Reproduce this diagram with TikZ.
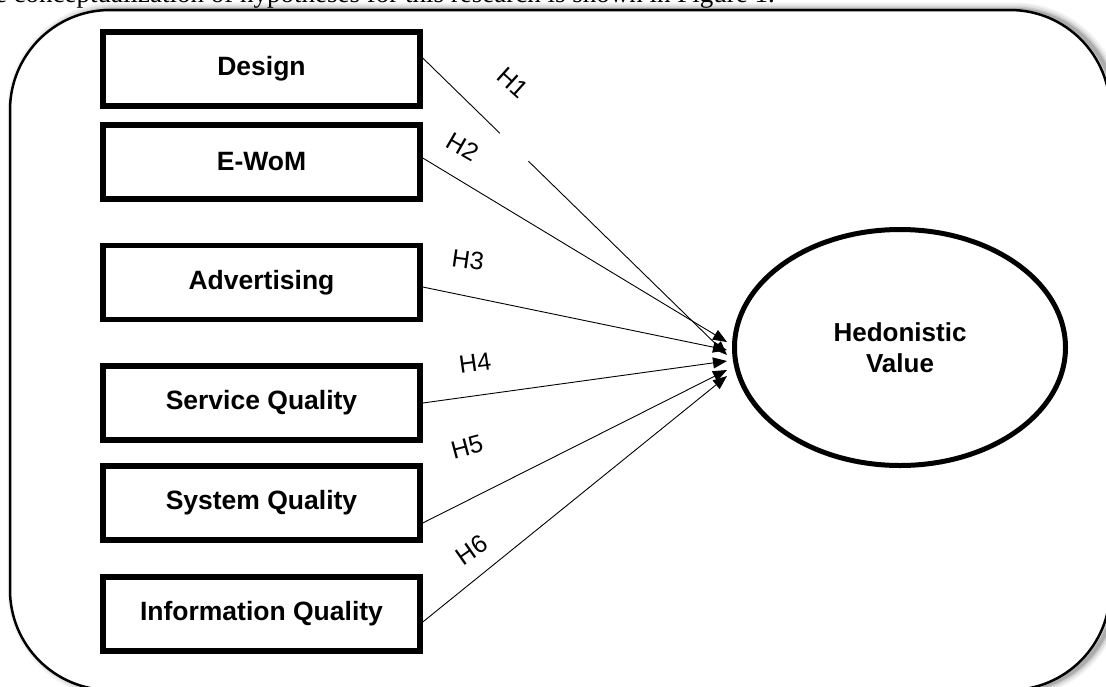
\documentclass[tikz,border=0pt]{standalone}
\usepackage{fontspec}
\setmainfont{Liberation Serif}
\newfontfamily\arial{Liberation Sans}
\usetikzlibrary{arrows.meta,shapes.geometric}

\begin{document}
\begin{tikzpicture}[x=1pt,y=-1pt,
  factor/.style={draw, line width=5.5pt, minimum width=317pt, minimum height=74pt,
    inner sep=0pt, font=\arial\bfseries\fontsize{26.5}{31}\selectfont},
  outcome/.style={draw, ellipse, line width=5pt, minimum width=331pt, minimum height=236pt,
    inner sep=0pt, align=center, font=\arial\bfseries\fontsize{26}{31}\selectfont},
  hyp/.style={line width=0.9pt, -{Triangle[length=14pt,width=11pt]}},
  hlabel/.style={font=\arial\fontsize{25}{30}\selectfont, inner sep=0pt},
  frame/.style={rounded corners=100pt}
]
\useasboundingbox (0,0) rectangle (1106,686);

% soft shadow around the outer frame, pushed to the right
\foreach \w/\o in {15/0.05, 11/0.07, 7/0.1, 4/0.15}
  \draw[frame, line width=\w pt, black, opacity=\o] (15,10) rectangle (1115,690);
% outer frame
\draw[frame, line width=2.5pt, fill=white] (10,10) rectangle (1110,690);

% line of running text above the figure
\node[anchor=base east, inner sep=0pt, font=\fontsize{27}{30}\selectfont] (lead) at (775,2)
  {The conceptualization of hypotheses for this research is shown in Figure 1.};

% constructs
\node[factor] (design) at (261.5,69)  {Design};
\node[factor] (ewom)   at (261.5,162) {E-WoM};
\node[factor] (adv)    at (261.5,282.5) {Advertising};
\node[factor] (serv)   at (261.5,403) {Service Quality};
\node[factor] (sys)    at (261.5,503) {System Quality};
\node[factor] (info)   at (261.5,614) {Information Quality};
\node[outcome] (hv) at (900,347.5) {Hedonistic\\Value};

% hypothesised paths
\draw[hyp] ([yshift=11pt]design.east) -- ([xshift=-5pt,yshift=-7.5pt]hv.west)
  coordinate[pos=0.254] (g1) coordinate[pos=0.347] (g2);
\draw[white, line width=3pt] (g1) -- (g2);
\draw[hyp] ([yshift=4pt]ewom.east)    -- ([xshift=-5pt,yshift=5.5pt]hv.west);
\draw[hyp] ([yshift=-4.5pt]adv.east)  -- ([xshift=-5pt,yshift=-2.5pt]hv.west);
\draw[hyp] (serv.east)                -- ([xshift=-5pt,yshift=-13.5pt]hv.west);
\draw[hyp] ([yshift=-20pt]sys.east)   -- ([xshift=-5pt,yshift=-22.5pt]hv.west);
\draw[hyp] ([yshift=-8pt]info.east)   -- ([xshift=-5pt,yshift=-28.5pt]hv.west);

% hypothesis labels
\node[hlabel, rotate=-42] (h1) at (513,83)  {H1};
\node[hlabel, rotate=-30] (h2) at (463,147) {H2};
\node[hlabel, rotate=-8]  (h3) at (468,260) {H3};
\node[hlabel, rotate=8]   (h4) at (475,363) {H4};
\node[hlabel, rotate=15]  (h5) at (467,447) {H5};
\node[hlabel, rotate=35]  (h6) at (472,550) {H6};
\end{tikzpicture}
\end{document}
